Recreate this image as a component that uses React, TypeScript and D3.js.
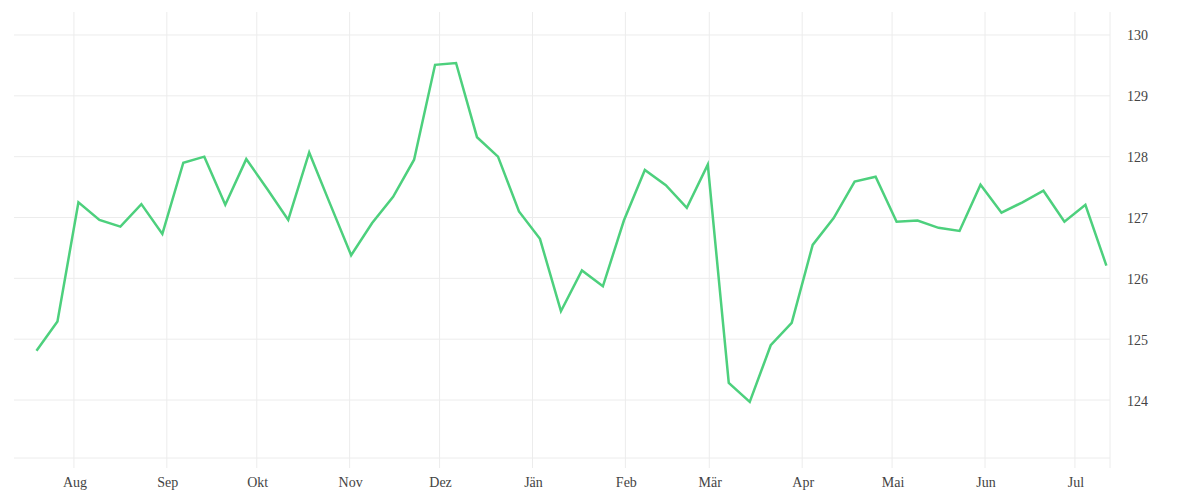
import React from 'react'
import * as d3 from 'd3'

// weekly closing values, starting Tue 19 Jul 2022
const startDate = new Date(2022, 6, 19, 12)
const values = [
  124.81, 125.29, 127.25, 126.96, 126.85, 127.22, 126.73, 127.9, 128.0, 127.21,
  127.96, 127.47, 126.96, 128.07, 127.22, 126.38, 126.91, 127.34, 127.95, 129.51,
  129.54, 128.32, 128.0, 127.1, 126.65, 125.46, 126.13, 125.87, 126.95, 127.78,
  127.53, 127.16, 127.87, 124.28, 123.97, 124.9, 125.27, 126.55, 126.99, 127.59,
  127.67, 126.93, 126.95, 126.83, 126.78, 127.54, 127.08, 127.25, 127.44, 126.93,
  127.21, 126.21
]
const yTicks = [124, 125, 126, 127, 128, 129, 130]
const monthLabels = ['Aug', 'Sep', 'Okt', 'Nov', 'Dez', 'Jän', 'Feb', 'Mär', 'Apr', 'Mai', 'Jun', 'Jul']
const monthDates = monthLabels.map((_, i) => new Date(2022, 7 + i, 1))

const width = 1200
const height = 500
const left = 14
const right = 1110
const top = 12
const bottom = 458

export default function App() {
  const points = values.map((v, i) => ({ date: d3.timeDay.offset(startDate, i * 7), value: v }))

  const x = d3.scaleTime()
    .domain([new Date(2022, 6, 12), new Date(2023, 6, 12, 17)])
    .range([left, right])

  const y = d3.scaleLinear()
    .domain([123.047, 130.378])
    .range([bottom, top])

  const line = d3.line<{ date: Date; value: number }>()
    .x(d => x(d.date))
    .y(d => y(d.value))

  const gridColor = '#ececec'
  const textColor = '#444'

  return (
    <svg
      width={width}
      height={height}
      style={{ position: 'absolute', left: 0, top: 0, fontFamily: 'serif' }}
    >
      {/* horizontal grid */}
      {yTicks.map(t => (
        <line key={t} x1={left} x2={right} y1={y(t)} y2={y(t)} stroke={gridColor} strokeWidth={1} />
      ))}
      <line x1={left} x2={right} y1={bottom} y2={bottom} stroke={gridColor} strokeWidth={1} />

      {/* vertical grid */}
      {monthDates.map((d, i) => (
        <line key={i} x1={x(d)} x2={x(d)} y1={top} y2={bottom + 10} stroke={gridColor} strokeWidth={1} />
      ))}
      <line x1={right} x2={right} y1={top} y2={bottom + 10} stroke={gridColor} strokeWidth={1} />

      {/* y labels */}
      {yTicks.map(t => (
        <text key={t} x={1127} y={y(t) + 5.5} fontSize={14} fill={textColor}>{t}</text>
      ))}

      {/* x labels */}
      {monthDates.map((d, i) => (
        <text key={i} x={x(d) + 1} y={487} fontSize={14} fill={textColor} textAnchor="middle">
          {monthLabels[i]}
        </text>
      ))}

      <path
        d={line(points) || ''}
        fill="none"
        stroke="#4dd07d"
        strokeWidth={2.5}
        strokeLinejoin="miter"
      />
    </svg>
  )
}
